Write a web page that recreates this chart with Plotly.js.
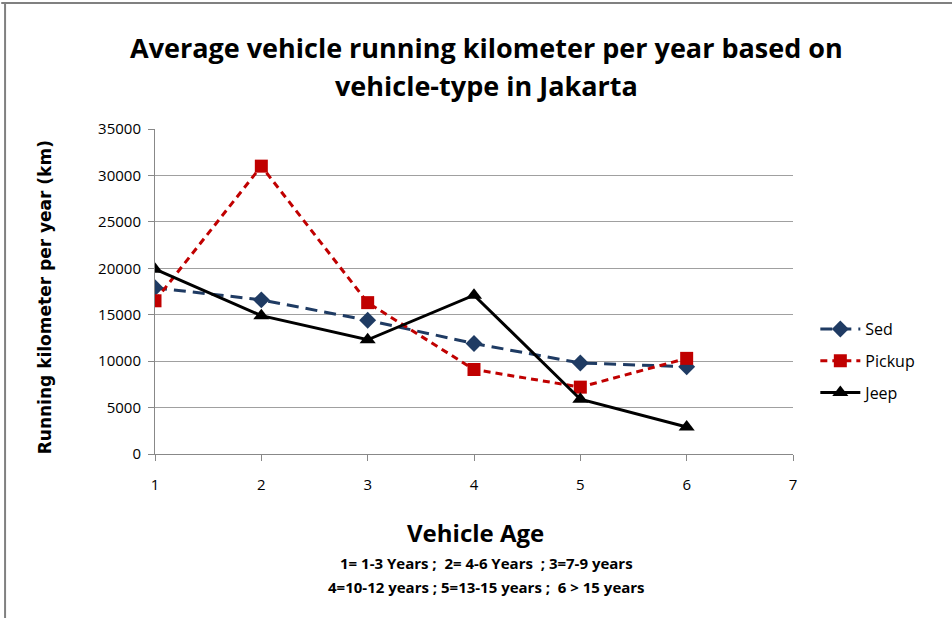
<!DOCTYPE html>
<html>
<head>
<meta charset="utf-8">
<script src="https://cdn.plot.ly/plotly-3.0.1.min.js"></script>
<style>html,body{margin:0;padding:0;background:#fff;}#chart{width:952px;height:618px;}</style>
</head>
<body>
<div id="chart"></div>
<script>
const vehicleAge = [1, 2, 3, 4, 5, 6];
const sed = [17900, 16600, 14400, 11900, 9800, 9400];
const pickup = [16500, 31000, 16300, 9100, 7200, 10300];
const jeep = [19900, 14900, 12300, 17100, 5900, 2900];
const xTicks = [1, 2, 3, 4, 5, 6, 7];
const yTicks = [0, 5000, 10000, 15000, 20000, 25000, 30000, 35000];

const fontMain = '"Open Sans", Arial, sans-serif';

const traces = [
  {x: vehicleAge, y: sed, name: 'Sed', legendgroup: 'a', mode: 'lines+markers',
   line: {color: '#1F3B63', width: 3, dash: '12px,7px'},
   marker: {symbol: 'diamond', size: 13, color: '#1F3B63'}},
  {x: vehicleAge, y: pickup, name: 'Pickup', legendgroup: 'b', mode: 'lines+markers',
   line: {color: '#C00000', width: 3, dash: '7px,5px'},
   marker: {symbol: 'square', size: 13, color: '#C00000'}},
  {x: vehicleAge, y: jeep, name: 'Jeep', legendgroup: 'c', mode: 'lines+markers',
   line: {color: '#000000', width: 3},
   marker: {symbol: 'triangle-up', size: 14, color: '#000000'}}
];

const layout = {
  width: 952, height: 618,
  margin: {l: 155, r: 159, t: 129, b: 164},
  paper_bgcolor: '#ffffff', plot_bgcolor: '#ffffff',
  font: {family: fontMain, size: 15, color: '#000'},
  xaxis: {range: [1, 7], tickvals: xTicks, ticktext: xTicks.map(String),
    showgrid: false, zeroline: false, showline: true, linecolor: '#888', linewidth: 1,
    ticks: 'outside', ticklen: 6, tickcolor: '#888', ticklabelstandoff: 11,
    tickfont: {family: fontMain, size: 15, color: '#000'}},
  yaxis: {range: [0, 35000], tickvals: yTicks, ticktext: yTicks.map(String),
    showgrid: true, gridcolor: '#a0a0a0', gridwidth: 1, zeroline: false,
    showline: true, linecolor: '#888', linewidth: 1,
    ticks: 'outside', ticklen: 6, tickcolor: '#888', ticklabelstandoff: 4,
    tickfont: {family: fontMain, size: 15, color: '#000'}},
  legend: {x: 1.035, xanchor: 'left', y: 0.286, yanchor: 'middle',
    font: {family: fontMain, size: 16, color: '#000'},
    traceorder: 'grouped', tracegroupgap: 8, itemwidth: 40, bgcolor: 'rgba(0,0,0,0)'},
  showlegend: true,
  annotations: [
    {text: '<b>Average vehicle running kilometer per year based on</b>', xref: 'paper', yref: 'paper',
     x: 0.52, y: 1.252, xanchor: 'center', yanchor: 'middle', showarrow: false,
     font: {family: fontMain, size: 27, color: '#000'}},
    {text: '<b>vehicle-type in Jakarta</b>', xref: 'paper', yref: 'paper',
     x: 0.52, y: 1.135, xanchor: 'center', yanchor: 'middle', showarrow: false,
     font: {family: fontMain, size: 27, color: '#000'}},
    {text: '<b>Running kilometer per year (km)</b>', xref: 'paper', yref: 'paper',
     x: -0.172, y: 0.483, xanchor: 'center', yanchor: 'middle', textangle: -90, showarrow: false,
     font: {family: '"DejaVu Sans", sans-serif', size: 17, color: '#000'}},
    {text: '<b>Vehicle Age</b>', xref: 'paper', yref: 'paper',
     x: 0.5016, y: -0.24, xanchor: 'center', yanchor: 'middle', showarrow: false,
     font: {family: fontMain, size: 24, color: '#000'}},
    {text: '<b>1= 1-3 Years ;  2= 4-6 Years  ; 3=7-9 years</b>', xref: 'paper', yref: 'paper',
     x: 0.52, y: -0.335, xanchor: 'center', yanchor: 'middle', showarrow: false,
     font: {family: fontMain, size: 15, color: '#000'}},
    {text: '<b>4=10-12 years ; 5=13-15 years ;  6 > 15 years</b>', xref: 'paper', yref: 'paper',
     x: 0.52, y: -0.408, xanchor: 'center', yanchor: 'middle', showarrow: false,
     font: {family: fontMain, size: 15, color: '#000'}}
  ],
  shapes: [
    {type: 'line', xref: 'paper', yref: 'paper', x0: -0.241, x1: 1.7, y0: 1.388, y1: 1.388,
     line: {color: '#808080', width: 2}},
    {type: 'line', xref: 'paper', yref: 'paper', x0: -0.235, x1: -0.235, y0: 1.39, y1: -0.6,
     line: {color: '#808080', width: 2}}
  ]
};

Plotly.newPlot('chart', traces, layout, {displayModeBar: false, staticPlot: true});
</script>
</body>
</html>
